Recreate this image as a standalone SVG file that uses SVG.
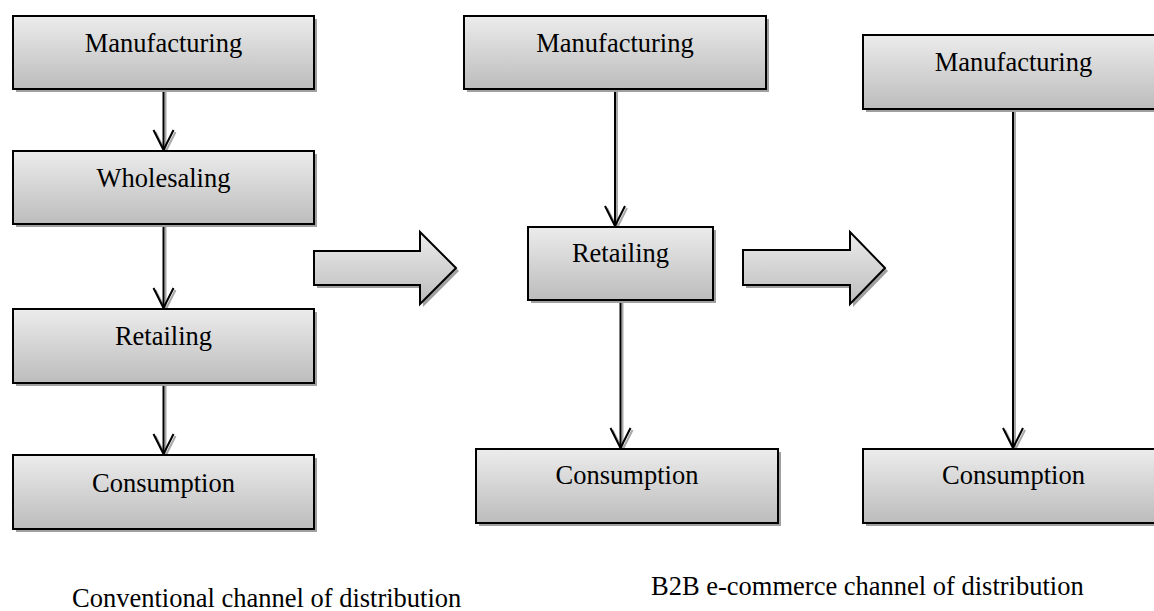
<svg xmlns="http://www.w3.org/2000/svg" width="1154" height="611" viewBox="0 0 1154 611">
<defs>
<linearGradient id="g" x1="0" y1="0" x2="0" y2="1">
<stop offset="0" stop-color="#ececec"/>
<stop offset="1" stop-color="#bcbcbc"/>
</linearGradient>
<marker id="ah" markerUnits="userSpaceOnUse" viewBox="-22 -12 24 24" refX="0" refY="0" markerWidth="24" markerHeight="24" orient="auto">
<path d="M-20,-10 L0,0 L-20,10" fill="none" stroke="#000" stroke-width="2"/>
</marker>
<marker id="ahs" markerUnits="userSpaceOnUse" viewBox="-22 -12 24 24" refX="0" refY="0" markerWidth="24" markerHeight="24" orient="auto">
<path d="M-20,-10 L0,0 L-20,10" fill="none" stroke="#a8a8a8" stroke-width="2"/>
</marker>
</defs>
<style>
.box{fill:url(#g);stroke:#000;stroke-width:2}
.sh{fill:#a0a0a0}
.lbl{font-family:"Liberation Serif","Times New Roman",serif;font-size:26.5px;fill:#000;text-anchor:middle}
.cap{font-family:"Liberation Serif","Times New Roman",serif;font-size:26.5px;fill:#000}
.ln{stroke:#000;stroke-width:2;fill:none;marker-end:url(#ah)}
.lns{stroke:#a8a8a8;stroke-width:2;fill:none;marker-end:url(#ahs)}
.blk{fill:url(#g);stroke:#000;stroke-width:2;stroke-linejoin:miter}
.blks{fill:#a0a0a0}
</style>
<rect width="1154" height="611" fill="#fff"/>

<g id="connectors">
<line class="lns" x1="165.5" y1="91" x2="165.5" y2="152"/>
<line class="ln" x1="163.5" y1="89" x2="163.5" y2="150"/>
<line class="lns" x1="165.5" y1="226" x2="165.5" y2="310"/>
<line class="ln" x1="163.5" y1="224" x2="163.5" y2="308"/>
<line class="lns" x1="165.5" y1="385" x2="165.5" y2="456"/>
<line class="ln" x1="163.5" y1="383" x2="163.5" y2="454"/>
<line class="lns" x1="617" y1="91" x2="617" y2="228"/>
<line class="ln" x1="615" y1="89" x2="615" y2="226"/>
<line class="lns" x1="622.5" y1="302" x2="622.5" y2="450"/>
<line class="ln" x1="620.5" y1="300" x2="620.5" y2="448"/>
<line class="lns" x1="1015" y1="111" x2="1015" y2="450"/>
<line class="ln" x1="1013" y1="109" x2="1013" y2="448"/>
</g>

<g id="flow-arrow-1">
<polygon class="blks" points="317,254 423,254 423,235 459,271 423,307 423,288 317,288"/>
<polygon class="blk" points="314,251 420,251 420,232 456,268 420,304 420,285 314,285"/>
</g>
<g id="flow-arrow-2">
<polygon class="blks" points="746,253 853,253 853,235 888,271 853,307 853,288 746,288"/>
<polygon class="blk" points="743,250 850,250 850,232 885,268 850,304 850,285 743,285"/>
</g>

<g id="conv-manufacturing">
<rect class="sh" x="16" y="19" width="301" height="73"/>
<rect class="box" x="13" y="16" width="301" height="73"/>
<text class="lbl" x="163.5" y="52">Manufacturing</text>
</g>
<g id="conv-wholesaling">
<rect class="sh" x="16" y="154" width="301" height="73"/>
<rect class="box" x="13" y="151" width="301" height="73"/>
<text class="lbl" x="163.5" y="187">Wholesaling</text>
</g>
<g id="conv-retailing">
<rect class="sh" x="16" y="312" width="301" height="74"/>
<rect class="box" x="13" y="309" width="301" height="74"/>
<text class="lbl" x="163.5" y="345">Retailing</text>
</g>
<g id="conv-consumption">
<rect class="sh" x="16" y="458" width="301" height="74"/>
<rect class="box" x="13" y="455" width="301" height="74"/>
<text class="lbl" x="163.5" y="492">Consumption</text>
</g>

<g id="mid-manufacturing">
<rect class="sh" x="467" y="19" width="302" height="73"/>
<rect class="box" x="464" y="16" width="302" height="73"/>
<text class="lbl" x="615" y="52">Manufacturing</text>
</g>
<g id="mid-retailing">
<rect class="sh" x="531" y="230" width="185" height="73"/>
<rect class="box" x="528" y="227" width="185" height="73"/>
<text class="lbl" x="620.5" y="262">Retailing</text>
</g>
<g id="mid-consumption">
<rect class="sh" x="479" y="452" width="302" height="74"/>
<rect class="box" x="476" y="449" width="302" height="74"/>
<text class="lbl" x="627" y="484">Consumption</text>
</g>

<g id="b2b-manufacturing">
<rect class="sh" x="866" y="38" width="301" height="74"/>
<rect class="box" x="863" y="35" width="301" height="74"/>
<text class="lbl" x="1013.5" y="71">Manufacturing</text>
</g>
<g id="b2b-consumption">
<rect class="sh" x="866" y="452" width="301" height="74"/>
<rect class="box" x="863" y="449" width="301" height="74"/>
<text class="lbl" x="1013.5" y="484">Consumption</text>
</g>

<g id="captions">
<text class="cap" x="72" y="607">Conventional channel of distribution</text>
<text class="cap" x="651" y="595">B2B e-commerce channel of distribution</text>
</g>
</svg>
